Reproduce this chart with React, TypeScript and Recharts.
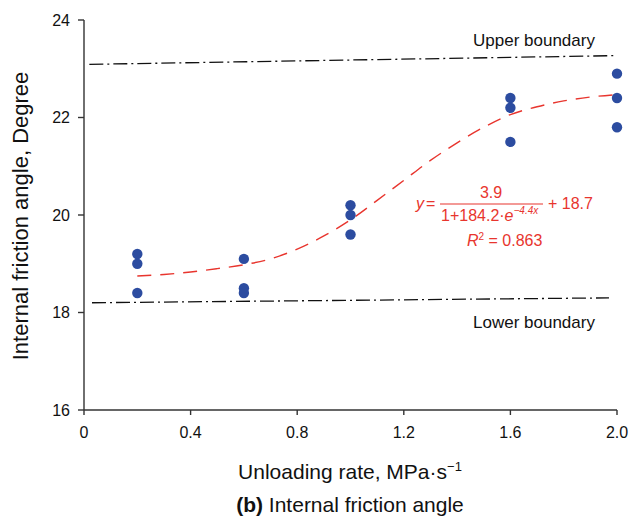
import {
  ComposedChart, Line, Scatter, XAxis, YAxis,
} from 'recharts';

// measured points: unloading rate (MPa/s) vs internal friction angle (deg)
const rateValues = [0.2, 0.2, 0.2, 0.6, 0.6, 0.6, 1.0, 1.0, 1.0, 1.6, 1.6, 1.6, 2.0, 2.0, 2.0];
const angleValues = [19.2, 19.0, 18.4, 19.1, 18.5, 18.4, 20.2, 20.0, 19.6, 22.4, 22.2, 21.5, 22.9, 22.4, 21.8];

// fitted curve
const fitRates = [0.2, 0.3, 0.4, 0.5, 0.6, 0.7, 0.8, 0.9, 1.0, 1.1, 1.2, 1.3, 1.4, 1.5, 1.6, 1.7, 1.8, 1.9, 2.0];
const fitAngles = [18.75, 18.78, 18.83, 18.9, 18.98, 19.1, 19.3, 19.57, 19.9, 20.3, 20.71, 21.12, 21.48, 21.8, 22.06, 22.22, 22.34, 22.42, 22.47];

// boundaries
const upperRates = [0.02, 2.0];
const upperAngles = [23.09, 23.27];
const lowerRates = [0.03, 1.97];
const lowerAngles = [18.2, 18.3];

const xTicks = [0, 0.4, 0.8, 1.2, 1.6, 2.0];
const yTicks = [16, 18, 20, 22, 24];

const pts = rateValues.map((x, i) => ({ x, y: angleValues[i] }));
const fit = fitRates.map((x, i) => ({ x, y: fitAngles[i] }));
const upper = upperRates.map((x, i) => ({ x, y: upperAngles[i] }));
const lower = lowerRates.map((x, i) => ({ x, y: lowerAngles[i] }));

const FONT = '"Liberation Sans", Arial, sans-serif';
const RED = '#e8352e';
const BLUE = '#2c4ca0';
const AXIS = '#333';

const Dot = (p: any) => <circle cx={p.cx} cy={p.cy} r={5.2} fill={BLUE} />;

export default function App() {
  return (
    <div style={{ position: 'absolute', left: 0, top: 0, width: 630, height: 526, fontFamily: FONT }}>
      <ComposedChart
        width={630}
        height={526}
        margin={{ top: 20, right: 13, left: 0, bottom: 86 }}
      >
        <XAxis
          type="number"
          dataKey="x"
          domain={[0, 2]}
          ticks={xTicks}
          tickFormatter={(v) => (v === 0 ? '0' : v.toFixed(1))}
          height={30}
          tickSize={5}
          tickMargin={12}
          stroke={AXIS}
          strokeWidth={1.4}
          tick={{ fill: '#111', fontSize: 16, fontFamily: FONT }}
        />
        <YAxis
          type="number"
          dataKey="y"
          domain={[16, 24]}
          ticks={yTicks}
          width={84}
          tickSize={6}
          tickMargin={8}
          stroke={AXIS}
          strokeWidth={1.4}
          tick={{ fill: '#111', fontSize: 16, fontFamily: FONT }}
        />
        <Line data={upper} dataKey="y" type="linear" stroke="#111" strokeWidth={1.3}
          strokeDasharray="14 4 2 4" dot={false} isAnimationActive={false} />
        <Line data={lower} dataKey="y" type="linear" stroke="#111" strokeWidth={1.3}
          strokeDasharray="14 4 2 4" dot={false} isAnimationActive={false} />
        <Line data={fit} dataKey="y" type="monotone" stroke={RED} strokeWidth={1.4}
          strokeDasharray="14 9" dot={false} isAnimationActive={false} />
        <Scatter data={pts} dataKey="y" shape={Dot} isAnimationActive={false} />
      </ComposedChart>

      <svg width={630} height={526} style={{ position: 'absolute', left: 0, top: 0, pointerEvents: 'none' }}
        fontFamily={FONT}>
        <text transform="translate(28,216) rotate(-90)" textAnchor="middle" fontSize={22} fill="#111">
          Internal friction angle, Degree
        </text>
        <text x={350} y={479} textAnchor="middle" fontSize={21} fill="#111">
          Unloading rate, MPa·s<tspan fontSize={13} dy={-8}>−1</tspan>
        </text>
        <text x={350} y={512} textAnchor="middle" fontSize={21} fill="#111">
          <tspan fontWeight="bold">(b)</tspan> Internal friction angle
        </text>

        <text x={473} y={46} fontSize={17} fill="#111">Upper boundary</text>
        <text x={473} y={328} fontSize={17} fill="#111">Lower boundary</text>

        <g fill={RED} fontSize={16}>
          <text x={416} y={209} fontStyle="italic">y</text>
          <text x={426} y={209}>=</text>
          <text x={491} y={198} textAnchor="middle">3.9</text>
          <line x1={440} x2={543} y1={204} y2={204} stroke={RED} strokeWidth={1.2} />
          <text x={441} y={221}>
            1+184.2·<tspan fontStyle="italic">e</tspan>
            <tspan fontSize={10} fontStyle="italic" dy={-7}>−4.4x</tspan>
          </text>
          <text x={548} y={209}>+ 18.7</text>
          <text x={467} y={246}>
            <tspan fontStyle="italic">R</tspan>
            <tspan fontSize={10} dy={-6}>2</tspan>
            <tspan dy={6}> = 0.863</tspan>
          </text>
        </g>
      </svg>
    </div>
  );
}
